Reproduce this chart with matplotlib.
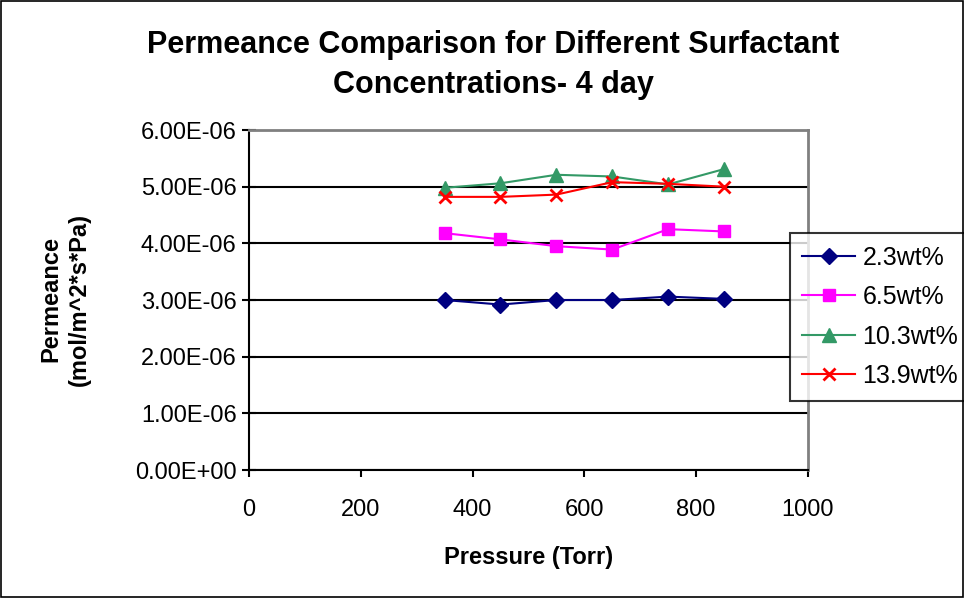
import matplotlib.pyplot as plt
from matplotlib.ticker import FuncFormatter

pressure = [350, 450, 550, 650, 750, 850]
labels = ['2.3wt%', '6.5wt%', '10.3wt%', '13.9wt%']
perm_23 = [3.00e-6, 2.92e-6, 3.00e-6, 3.00e-6, 3.06e-6, 3.02e-6]
perm_65 = [4.18e-6, 4.07e-6, 3.95e-6, 3.89e-6, 4.25e-6, 4.21e-6]
perm_103 = [4.98e-6, 5.06e-6, 5.21e-6, 5.18e-6, 5.04e-6, 5.31e-6]
perm_139 = [4.82e-6, 4.82e-6, 4.86e-6, 5.08e-6, 5.05e-6, 5.00e-6]

plt.rcParams['font.family'] = ['Liberation Sans', 'DejaVu Sans']

fig = plt.figure(figsize=[9.64, 5.98], dpi=100)
fig.patches.append(plt.Rectangle((0.001, 0.001), 0.998, 0.998, transform=fig.transFigure,
                                 fill=False, edgecolor='black', linewidth=1.2))
ax = fig.add_axes([0.2583, 0.214, 0.5797, 0.5686])

ax.plot(pressure, perm_23, color='#000080', marker='D', markersize=8, linewidth=1.5, label=labels[0])
ax.plot(pressure, perm_65, color='#FF00FF', marker='s', markersize=8.5, linewidth=1.5, label=labels[1])
ax.plot(pressure, perm_103, color='#339966', marker='^', markersize=10, linewidth=1.5, label=labels[2])
ax.plot(pressure, perm_139, color='#FF0000', marker='x', markersize=8, markeredgewidth=2, linewidth=1.5, label=labels[3])

ax.set_xlim(0, 1000)
ax.set_ylim(0, 6e-6)
ax.set_xticks(range(0, 1001, 200))
ax.set_yticks([i * 1e-6 for i in range(7)])
ax.yaxis.set_major_formatter(FuncFormatter(lambda v, p: ('%.2E' % v)))
ax.yaxis.grid(True, color='black', linewidth=1.5)
ax.set_axisbelow(True)

for s in ['top', 'right']:
    ax.spines[s].set_color('#808080')
    ax.spines[s].set_linewidth(2)
for s in ['left', 'bottom']:
    ax.spines[s].set_linewidth(1.5)
ax.tick_params(labelsize=17, length=5, width=1.5)
ax.tick_params(axis='x', direction='out', pad=16)
ax.tick_params(axis='y', direction='inout', length=10, pad=4)

ax.set_xlabel('Pressure (Torr)', fontsize=17, fontweight='bold', labelpad=18)
fig.text(0.068, 0.5, 'Permeance\n(mol/m^2*s*Pa)', rotation=90, fontsize=17,
         fontweight='bold', ha='center', va='center', linespacing=1.3)
fig.text(0.512, 0.891, 'Permeance Comparison for Different Surfactant\nConcentrations- 4 day',
         fontsize=22, fontweight='bold', ha='center', va='center', linespacing=1.45)

leg = ax.legend(loc='upper left', bbox_to_anchor=(0.968, 0.697), borderaxespad=0,
                fontsize=18, frameon=True, fancybox=False, edgecolor='black',
                handlelength=2.1, handletextpad=0.3, borderpad=0.5, labelspacing=0.62)
leg.get_frame().set_linewidth(1.5)

plt.savefig('out.png')
